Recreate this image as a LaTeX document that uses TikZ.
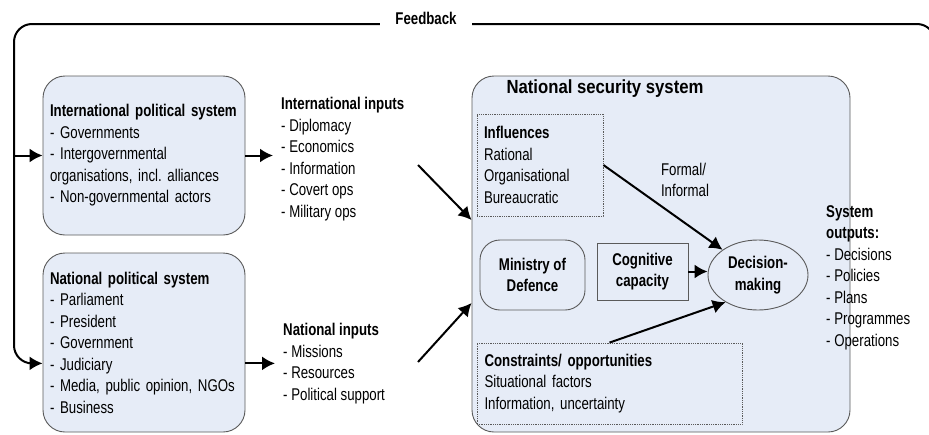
\documentclass[tikz,border=0pt]{standalone}
\usepackage{fontspec}
\setmainfont{Liberation Sans}[FakeStretch=0.78]
\newfontfamily\titlefont{Liberation Sans}[FakeStretch=0.88]
\usetikzlibrary{arrows.meta,shapes.geometric}
\definecolor{boxblue}{RGB}{230,236,247}
\definecolor{boxline}{RGB}{90,90,90}
\frenchspacing
\tikzset{
    sysbox/.style={draw=boxline, line width=0.9pt, fill=boxblue, rounded corners=22pt},
    dotbox/.style={draw=boxline, densely dotted, line width=0.8pt},
    unitbox/.style={draw=boxline, line width=0.9pt, align=center, font=\fontsize{17}{21.5}\selectfont\bfseries},
    arr/.style={-{Latex[length=13pt,width=14pt]}, line width=2pt},
    txt/.style={align=left, inner sep=0pt},
}
\begin{document}
\begin{tikzpicture}[x=1pt, y=-1pt, font=\fontsize{17}{21.5}\selectfont]
    \useasboundingbox (0,0) rectangle (929,434);

    % political systems
    \node[sysbox, minimum width=202pt, minimum height=159pt, text width=188pt, align=left] (intl) at (144,155.5)
        {\textbf{International political system}\\- Governments\\- Intergovernmental\\organisations, incl. alliances\\- Non-governmental actors};
    \node[sysbox, minimum width=202pt, minimum height=179pt, text width=188pt, align=left] (natl) at (144,342.5)
        {\textbf{National political system}\\- Parliament\\- President\\- Government\\- Judiciary\\- Media, public opinion, NGOs\\- Business};

    % inputs
    \node[txt, anchor=north west, inner xsep=8pt] (iinp) at (273,97)
        {\textbf{International inputs}\\- Diplomacy\\- Economics\\- Information\\- Covert ops\\- Military ops};
    \node[txt, anchor=north west, inner xsep=8pt] (ninp) at (275,323)
        {\textbf{National inputs}\\- Missions\\- Resources\\- Political support};
    \draw[arr] (intl.east) -- (intl.east -| iinp.west);
    \draw[arr] (natl.east |- ninp.west) -- (ninp.west);

    % feedback loop
    \coordinate (fbL) at (14,24);
    \coordinate (fbR) at (935,50);
    \draw[arr, rounded corners=18pt] (fbR) |- (fbL) |- (natl.west |- ninp.west);
    \draw[arr] (fbL |- intl.west) -- (intl.west);
    \node[fill=white, inner xsep=15pt, inner ysep=4pt] (fb) at (426,18) {\textbf{Feedback}};

    % national security system
    \node[sysbox, minimum width=378pt, minimum height=356pt] (nss) at (661,254) {};
    \node[font=\titlefont\fontsize{19}{22}\selectfont\bfseries] (nsstitle) at (605,89) {National security system};
    \node[dotbox, minimum width=126pt, minimum height=102pt, text width=112pt, align=left] (infl) at (540,165)
        {\textbf{Influences}\\Rational\\Organisational\\Bureaucratic};
    \node[dotbox, minimum width=265pt, minimum height=81pt, text width=250pt, align=left] (cons) at (609.5,383.5)
        {\textbf{Constraints/ opportunities}\\Situational factors\\Information, uncertainty};
    \node[txt] (formal) at (685,180) {Formal/\\Informal};
    \node[unitbox, rounded corners=20pt, minimum width=105pt, minimum height=70pt] (mod) at (532.5,275) {Ministry of\\Defence};
    \node[unitbox, minimum width=91pt, minimum height=57pt] (cog) at (642.5,271.5) {Cognitive\\capacity};
    \node[unitbox, ellipse, minimum width=100pt, minimum height=70pt, inner sep=0pt] (dm) at (758,275) {Decision-\\making};
    \draw[arr] (infl.east) -- (dm);
    \draw[arr] (cog.east) -- (cog.east -| dm.west);
    \draw[arr] (cons.north) -- (dm.220);

    % inputs into the system
    \coordinate (iin) at (418,165);
    \coordinate (nin) at (418,362);
    \draw[arr] (iin) -- (nss.west |- 0,220);
    \draw[arr] (nin) -- (nss.west |- 0,303);

    % outputs
    \node[txt, anchor=north west] (out) at (826,205)
        {\textbf{System}\\\textbf{outputs:}\\- Decisions\\- Policies\\- Plans\\- Programmes\\- Operations};
\end{tikzpicture}
\end{document}
